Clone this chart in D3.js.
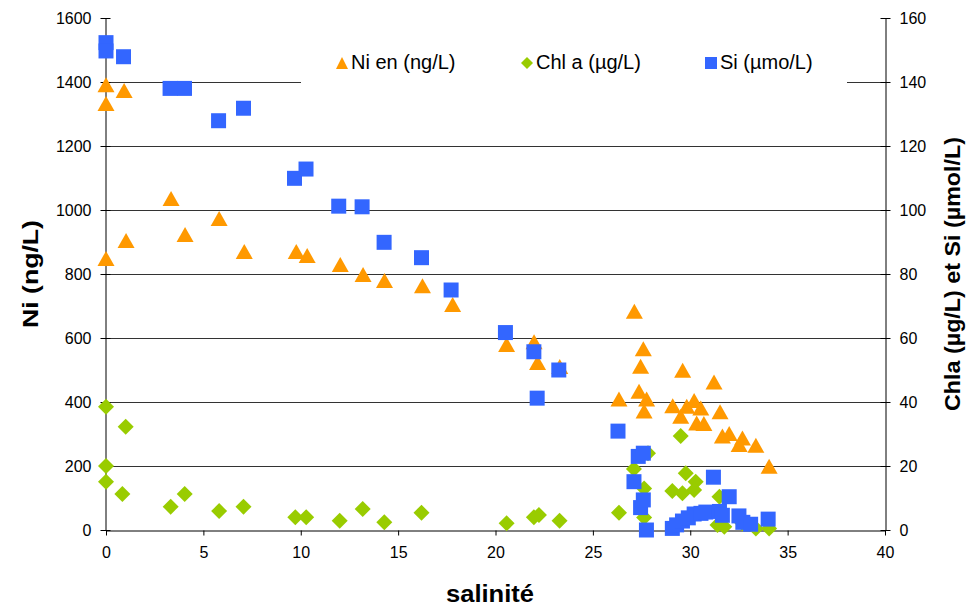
<!DOCTYPE html>
<html>
<head>
<meta charset="utf-8">
<script src="https://cdn.jsdelivr.net/npm/d3@7"></script>
<style>
  body { margin: 0; background: #fff; }
  svg { display: block; font-family: Arial, "Liberation Sans", sans-serif; }
</style>
</head>
<body>
<svg id="chart" width="971" height="606"></svg>
<script>
// salinité / value pairs
const niData = [
  [0, 1390], [0, 1331], [0, 847], [0.93, 1372], [1.03, 903], [3.34, 1034],
  [4.06, 922], [5.81, 972], [7.1, 869], [9.77, 869], [10.33, 856], [12.03, 828],
  [13.2, 797], [14.3, 778], [16.25, 762], [17.8, 703], [20.57, 578],
  [21.98, 587], [22.16, 522], [23.3, 509],
  [27.13, 682], [27.59, 565], [27.45, 510], [29.61, 498], [31.22, 461],
  [26.34, 408], [27.37, 432], [27.76, 408], [27.63, 370], [29.1, 387],
  [29.82, 385], [30.2, 403], [30.54, 380], [29.51, 354], [30.33, 333],
  [30.7, 331], [31.53, 368], [31.65, 292], [32.0, 300], [32.68, 286],
  [32.51, 266], [33.37, 263], [34.05, 198]
];

const chlData = [
  [0, 38.5], [1.01, 32.3], [0, 20], [0, 15.1], [0.84, 11.25], [3.32, 7.3],
  [4.04, 11.25], [5.81, 5.9], [7.06, 7.3], [9.72, 4], [10.28, 4], [12.0, 2.9],
  [13.18, 6.6], [14.29, 2.4], [16.2, 5.4], [20.57, 2.1], [21.97, 4], [22.23, 4.7],
  [23.29, 2.9],
  [29.51, 29.4], [27.83, 24], [27.11, 19.1], [29.77, 17.7], [30.28, 15.1],
  [27.63, 13], [29.08, 12.2], [29.6, 11.5], [30.2, 12.5], [26.34, 5.4],
  [27.63, 3.9], [31.5, 10.4], [31.4, 1.6], [31.75, 1], [32.68, 2.1],
  [33.37, 0.5], [34.05, 0.5]
];

const siData = [
  [0, 152.3], [0, 149.7], [0.9, 147.9], [3.29, 138], [4.03, 138], [5.78, 127.9],
  [7.06, 131.8], [9.68, 109.9], [10.27, 112.8], [11.95, 101.2], [13.15, 101],
  [14.28, 89.9], [16.2, 85.1], [17.72, 75], [20.51, 61.7], [21.97, 55.7],
  [23.25, 50], [22.14, 41.2],
  [26.29, 30.9], [27.11, 15.1], [27.33, 23], [27.59, 24], [27.45, 7],
  [27.59, 9.4], [27.75, 0], [29.08, 0.5], [29.3, 1.6], [29.6, 2.8],
  [29.9, 3.8], [30.2, 5], [30.55, 5.2], [30.8, 5.6], [31.19, 16.5],
  [31.5, 5.8], [31.65, 4.6], [32.0, 10.4], [32.5, 4.4], [32.7, 2.4],
  [33.1, 1.8], [34.0, 3.4]
];

const xTicks = [0, 5, 10, 15, 20, 25, 30, 35, 40];
const leftTicks = [0, 200, 400, 600, 800, 1000, 1200, 1400, 1600];
const rightTicks = [0, 20, 40, 60, 80, 100, 120, 140, 160];

const legendItems = [
  { label: "Ni en (ng/L)", shape: "triangle", color: "#FF9900" },
  { label: "Chl a (µg/L)", shape: "diamond", color: "#99CC00" },
  { label: "Si (µmo/L)", shape: "square", color: "#3366FF" }
];

const svg = d3.select("#chart");
const plot = { left: 106, right: 885, top: 18, bottom: 530 };

const x = d3.scaleLinear().domain([0, 40]).range([plot.left, plot.right]);
const yL = d3.scaleLinear().domain([0, 1600]).range([plot.bottom, plot.top]);
const yR = d3.scaleLinear().domain([0, 160]).range([plot.bottom, plot.top]);

// marker paths centred on 0,0
const shapes = {
  triangle: "M0,-8L8.5,7L-8.5,7Z",
  diamond: "M0,-8L8,0L0,8L-8,0Z",
  square: "M-7.5,-7.5H7.5V7.5H-7.5Z"
};
const smallShapes = {
  triangle: "M0,-6L6,6L-6,6Z",
  diamond: "M0,-6L6,0L0,6L-6,0Z",
  square: "M-6,-6H6V6H-6Z"
};

// gridlines
svg.append("g")
  .selectAll("line")
  .data(leftTicks.filter(d => d > 0 && d < 1600))
  .join("line")
  .attr("x1", plot.left).attr("x2", plot.right)
  .attr("y1", d => Math.round(yL(d)) + 0.5)
  .attr("y2", d => Math.round(yL(d)) + 0.5)
  .attr("stroke", "#333")
  .attr("stroke-width", 1);

// axes
const fmt = d3.format("d");
const gx = svg.append("g").attr("transform", `translate(0,${plot.bottom + 0.5})`)
  .call(d3.axisBottom(x).tickValues(xTicks).tickFormat(fmt).tickSize(5).tickPadding(11).tickSizeOuter(0));
const gl = svg.append("g").attr("transform", `translate(${plot.left - 0.5},0)`)
  .call(d3.axisLeft(yL).tickValues(leftTicks).tickFormat(fmt).tickSize(5).tickPadding(9).tickSizeOuter(0));
const gr = svg.append("g").attr("transform", `translate(${plot.right + 0.5},0)`)
  .call(d3.axisRight(yR).tickValues(rightTicks).tickFormat(fmt).tickSize(5).tickPadding(9).tickSizeOuter(0));

// ticks cross the vertical axis lines
gl.selectAll(".tick line").attr("x1", 5);
gr.selectAll(".tick line").attr("x1", -5);
[gx, gl, gr].forEach(g => {
  g.select(".domain").attr("stroke", "#000");
  g.selectAll(".tick line").attr("stroke", "#000");
  g.selectAll(".tick text")
    .attr("font-size", 16)
    .attr("fill", "#000")
    .attr("font-family", "Arial, 'Liberation Sans', sans-serif");
});
gl.selectAll(".tick text").attr("dy", "0.35em");
gr.selectAll(".tick text").attr("dy", "0.35em");

// series
function drawSeries(data, yScale, shape, color) {
  svg.append("g")
    .selectAll("path")
    .data(data)
    .join("path")
    .attr("transform", d => `translate(${x(d[0])},${yScale(d[1])})`)
    .attr("d", shapes[shape])
    .attr("fill", color);
}
drawSeries(niData, yL, "triangle", "#FF9900");
drawSeries(chlData, yR, "diamond", "#99CC00");
drawSeries(siData, yR, "square", "#3366FF");

// legend
const legend = svg.append("g");
legend.append("rect")
  .attr("x", 301).attr("y", 40).attr("width", 546).attr("height", 54)
  .attr("fill", "#fff");
const legendX = [342, 527, 711];
legendItems.forEach((item, i) => {
  legend.append("path")
    .attr("transform", `translate(${legendX[i]},${63})`)
    .attr("d", smallShapes[item.shape])
    .attr("fill", item.color);
  legend.append("text")
    .attr("x", legendX[i] + 9).attr("y", 69)
    .attr("font-size", 20)
    .attr("fill", "#000")
    .text(item.label);
});

// axis titles
svg.append("text")
  .attr("transform", `translate(38,${(plot.top + plot.bottom) / 2}) rotate(-90)`)
  .attr("text-anchor", "middle")
  .attr("font-size", 22).attr("font-weight", "bold")
  .attr("textLength", 108).attr("lengthAdjust", "spacingAndGlyphs")
  .text("Ni (ng/L)");
svg.append("text")
  .attr("transform", `translate(960,${(plot.top + plot.bottom) / 2}) rotate(-90)`)
  .attr("text-anchor", "middle")
  .attr("font-size", 22).attr("font-weight", "bold")
  .attr("textLength", 274).attr("lengthAdjust", "spacingAndGlyphs")
  .text("Chla (µg/L) et Si (µmol/L)");
svg.append("text")
  .attr("x", 490).attr("y", 602)
  .attr("text-anchor", "middle")
  .attr("font-size", 23).attr("font-weight", "bold")
  .attr("textLength", 88).attr("lengthAdjust", "spacingAndGlyphs")
  .text("salinité");
</script>
</body>
</html>
